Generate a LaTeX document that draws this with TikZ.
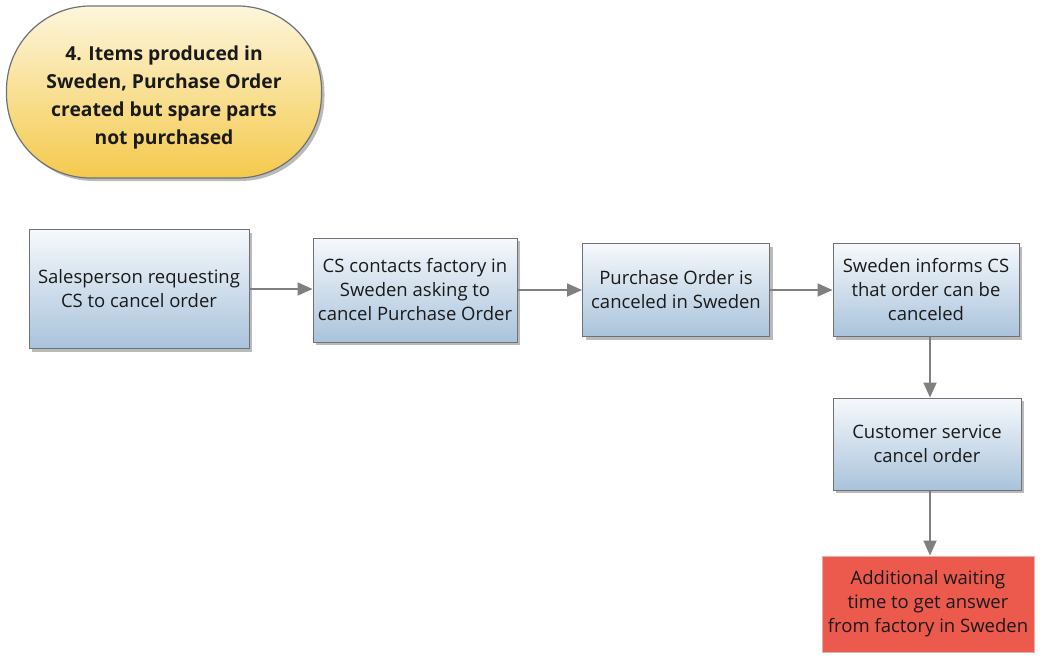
\documentclass[tikz,border=0pt]{standalone}
\usepackage{fontspec}
\setmainfont{Open Sans}
\usetikzlibrary{arrows.meta,shadows,positioning}
\definecolor{boxtop}{HTML}{F6F9FC}
\definecolor{boxbot}{HTML}{A9C3DB}
\definecolor{boxedge}{HTML}{6E7276}
\definecolor{ovaltop}{HTML}{FDF6DC}
\definecolor{ovalbot}{HTML}{F4C94C}
\definecolor{alertfill}{HTML}{EC5A4E}
\definecolor{alertedge}{HTML}{E4B0AC}
\definecolor{flow}{HTML}{7F7F7F}
\definecolor{ink}{HTML}{1A1A1A}
\begin{document}
\begin{tikzpicture}[x=1pt,y=-1pt,
  boxfont/.style={font=\fontsize{18.5}{24}\selectfont},
  stepbox/.style={draw=boxedge, line width=1pt, top color=boxtop, bottom color=boxbot,
    align=center, text=ink, boxfont, inner sep=0pt,
    drop shadow={shadow xshift=3pt, shadow yshift=-3pt, fill=black!45, opacity=0.6}},
  alertbox/.style={draw=alertedge, line width=1pt, fill=alertfill,
    align=center, text=ink, boxfont, inner sep=0pt},
  oval/.style={draw=boxedge, line width=1.2pt, rounded corners=84pt,
    top color=ovaltop, bottom color=ovalbot, inner sep=0pt,
    drop shadow={shadow xshift=3pt, shadow yshift=-3pt, fill=black!45, opacity=0.6}},
  titlefont/.style={font=\fontsize{19.3}{28}\selectfont\bfseries, text=ink, align=center},
  flowarrow/.style={draw=flow, line width=1.8pt, -{Triangle[length=15pt,width=13pt]}}
]
\useasboundingbox (0,0) rectangle (1047,664);

% title stadium
\node[oval, minimum width=315pt, minimum height=172pt] (title) at (164,92) {};
\node[titlefont] (titletext) at (164,97)
  {4. Items produced in\\Sweden, Purchase Order\\created but spare parts\\not purchased};

% process steps along the top row
\node[stepbox, minimum width=220pt, minimum height=119pt] (s1) at (139,289)
  {Salesperson requesting\\CS to cancel order};
\node[stepbox, minimum width=204pt, minimum height=104pt] (s2) at (415,290)
  {CS contacts factory in\\Sweden asking to\\cancel Purchase Order};
\node[stepbox, minimum width=187pt, minimum height=93pt] (s3) at (676,290)
  {Purchase Order is\\canceled in Sweden};
\node[stepbox, minimum width=186pt, minimum height=93pt] (s4) at (926,290)
  {Sweden informs CS\\that order can be\\canceled};

% column going down
\node[stepbox, minimum width=188pt, minimum height=92pt] (s5) at (927,444)
  {Customer service\\cancel order};
\node[alertbox, minimum width=212pt, minimum height=96pt] (s6) at (928,604)
  {Additional waiting\\time to get answer\\from factory in Sweden};

% connectors
\draw[flowarrow] (s1.east) -- (s2.west |- s1.east);
\draw[flowarrow] (s2.east |- s3.west) -- (s3.west);
\draw[flowarrow] (s3.east) -- (s4.west);
\draw[flowarrow] (s4.south -| 930,0) -- (s5.north -| 930,0);
\draw[flowarrow] (s5.south -| 930,0) -- (s6.north -| 930,0);
\end{tikzpicture}
\end{document}
